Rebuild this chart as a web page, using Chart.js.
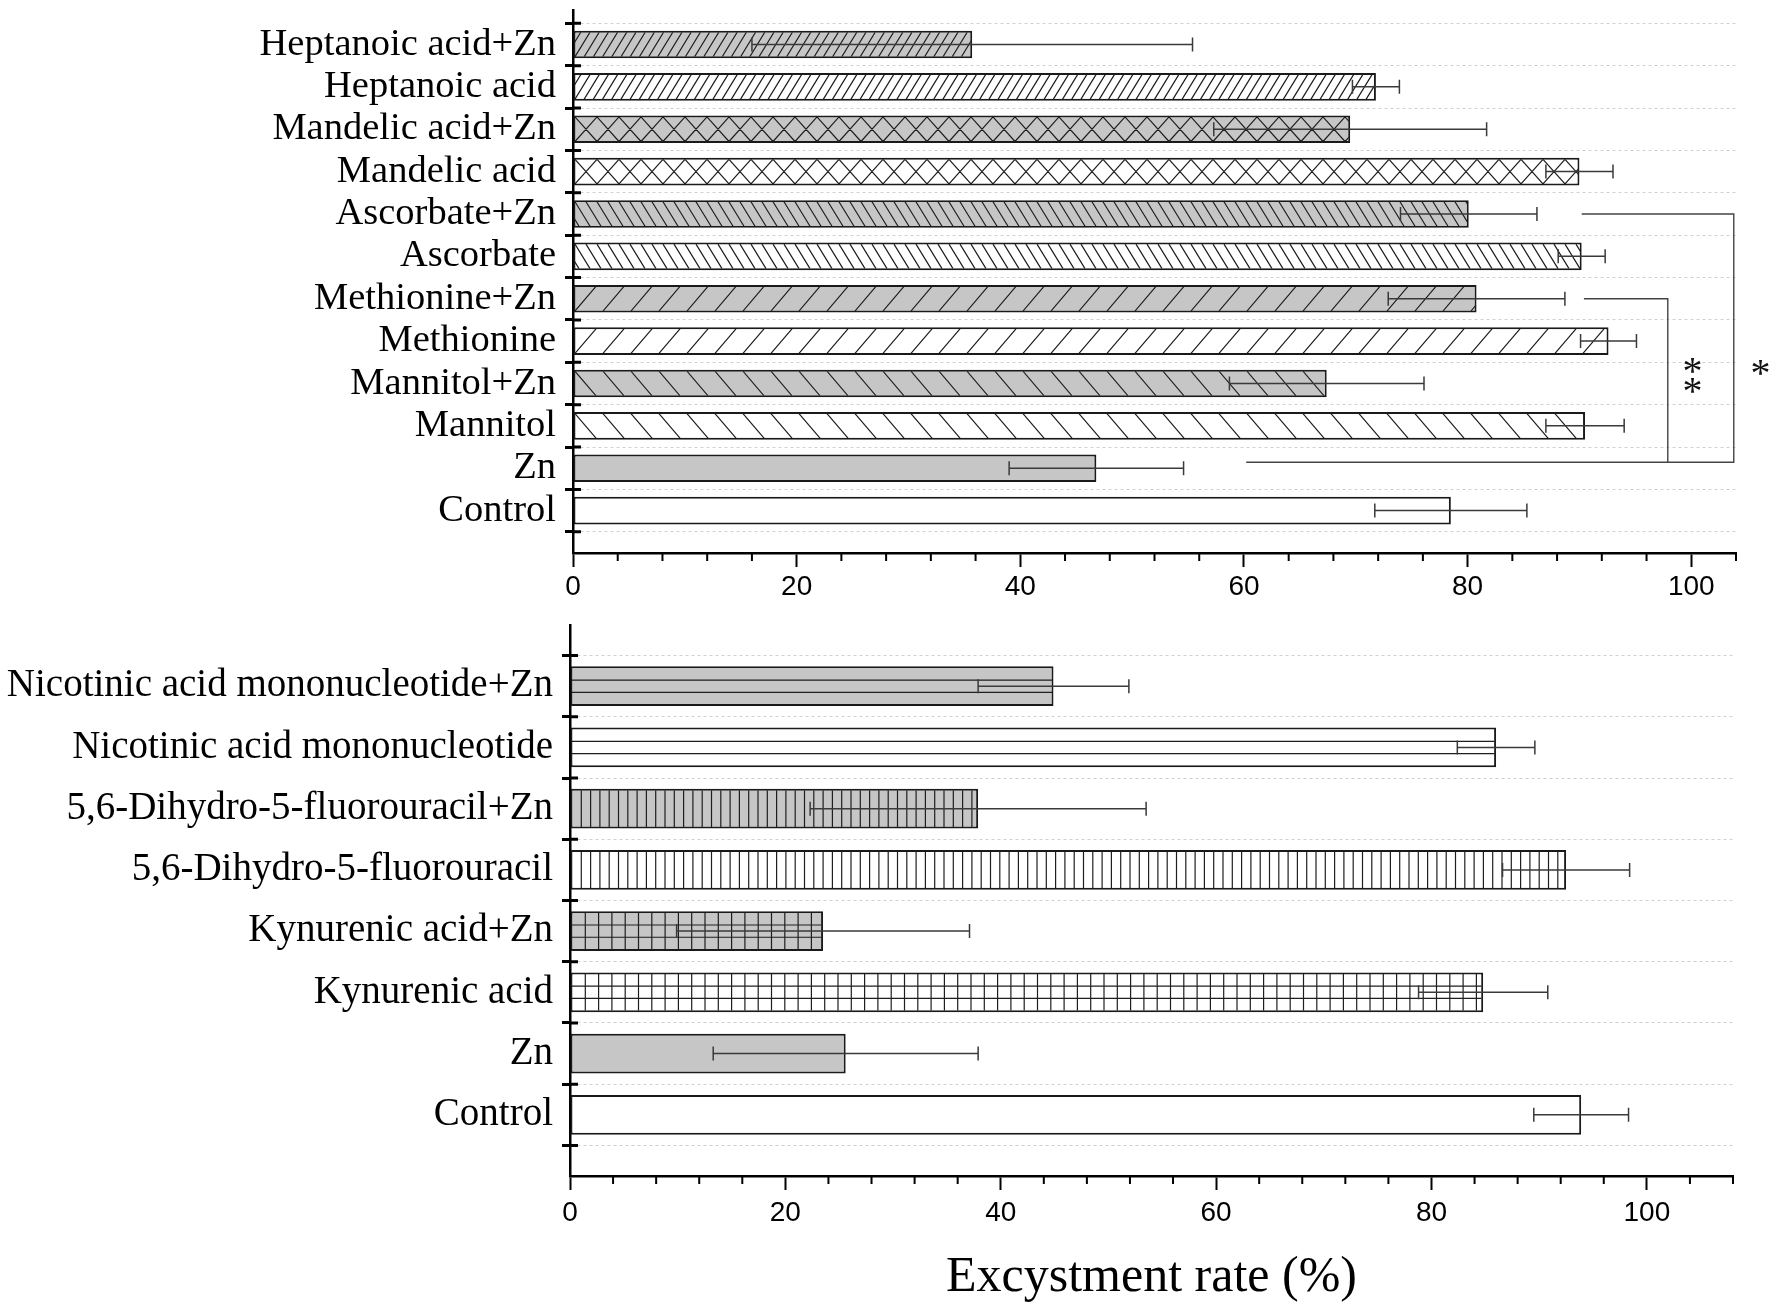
<!DOCTYPE html>
<html>
<head>
<meta charset="utf-8">
<script src="https://cdn.jsdelivr.net/npm/chart.js@4.4.1/dist/chart.umd.min.js"></script>
<style>
  html, body { margin: 0; padding: 0; background: #fff; }
  #wrap { position: relative; width: 1770px; height: 1308px; }
  .box { position: absolute; left: 0; width: 1770px; }
  #top { top: 0; height: 615px; }
  #bottom { top: 615px; height: 693px; }
</style>
</head>
<body>
<div id="wrap">
  <div class="box" id="top"><canvas id="chartTop"></canvas></div>
  <div class="box" id="bottom"><canvas id="chartBottom"></canvas></div>
</div>
<script>
(function () {
    "use strict";

    // Data
    const topLabels = ["Heptanoic acid+Zn", "Heptanoic acid", "Mandelic acid+Zn", "Mandelic acid",
        "Ascorbate+Zn", "Ascorbate", "Methionine+Zn", "Methionine", "Mannitol+Zn", "Mannitol", "Zn", "Control"];
    const topValues = [35.7, 71.8, 69.5, 90.0, 80.1, 90.2, 80.8, 92.6, 67.4, 90.5, 46.8, 78.5];
    const topErrors = [19.7, 2.1, 12.2, 3.0, 6.1, 2.1, 7.9, 2.5, 8.7, 3.5, 7.8, 6.8];

    const bottomLabels = ["Nicotinic acid mononucleotide+Zn", "Nicotinic acid mononucleotide",
        "5,6-Dihydro-5-fluorouracil+Zn", "5,6-Dihydro-5-fluorouracil",
        "Kynurenic acid+Zn", "Kynurenic acid", "Zn", "Control"];
    const bottomValues = [44.9, 86.0, 37.9, 92.5, 23.5, 84.8, 25.6, 93.9];
    const bottomErrors = [7.0, 3.6, 15.6, 5.9, 13.6, 6.0, 12.3, 4.4];

    const xMajorStep = 20;
    const xMinorStep = 4;
    const axisTitle = "Excystment rate (%)";

    // Styles
    const GRAY = "#c6c6c6";
    const WHITE = "#ffffff";
    const serif = '"Liberation Serif", "Times New Roman", serif';
    const sans = '"Liberation Sans", Arial, sans-serif';

    const topFill = [GRAY, WHITE, GRAY, WHITE, GRAY, WHITE, GRAY, WHITE, GRAY, WHITE, GRAY, WHITE];
    const topHatch = [
        { kind: "fwd", step: 9.2, run: 15 },
        { kind: "fwd", step: 9.2, run: 15 },
        { kind: "cross", step: 22, run: 22 },
        { kind: "cross", step: 22, run: 22 },
        { kind: "back", step: 11, run: 15 },
        { kind: "back", step: 11, run: 15 },
        { kind: "fwd", step: 28, run: 21 },
        { kind: "fwd", step: 28, run: 21 },
        { kind: "back", step: 28, run: 21 },
        { kind: "back", step: 28, run: 21 },
        null,
        null,
    ];
    const bottomFill = [GRAY, WHITE, GRAY, WHITE, GRAY, WHITE, GRAY, WHITE];
    const bottomHatch = [
        { kind: "horiz" },
        { kind: "horiz" },
        { kind: "vert", step: 9.3 },
        { kind: "vert", step: 9.3 },
        { kind: "grid", step: 13.3 },
        { kind: "grid", step: 13.3 },
        null,
        null,
    ];

    // significance brackets (value units)
    const topBrackets = [
        { yTop: 4, yBottom: 9.86, xStart: 90.2, xVert: 103.8, xTail: 60.2, marks: [[106.2, 7.6]] },
        { yTop: 6, yBottom: 9.86, xStart: 90.4, xVert: 97.9, xTail: null, marks: [[100.1, 7.56], [100.1, 8.03]] },
    ];

    function drawHatch(ctx, h, l, t, r, b) {
        ctx.save();
        ctx.beginPath();
        ctx.rect(l, t, r - l, b - t);
        ctx.clip();
        ctx.strokeStyle = "#1e1e1e";
        ctx.lineWidth = 1.2;
        ctx.beginPath();
        const ht = b - t;
        if (h.kind === "fwd" || h.kind === "cross" || h.kind === "back") {
            const start = l - Math.ceil(h.run / h.step + 1) * h.step;
            for (let x = start; x < r + h.step; x += h.step) {
                if (h.kind !== "back") { ctx.moveTo(x, b); ctx.lineTo(x + h.run, t); }
                if (h.kind !== "fwd") { ctx.moveTo(x, t); ctx.lineTo(x + h.run, b); }
            }
        }
        if (h.kind === "vert" || h.kind === "grid") {
            for (let x = l + h.step; x < r - 1; x += h.step) { ctx.moveTo(x, t); ctx.lineTo(x, b); }
        }
        if (h.kind === "horiz" || h.kind === "grid") {
            for (let k = 1; k < 3; k++) { const y = t + ht * k / 3; ctx.moveTo(l, y); ctx.lineTo(r, y); }
        }
        ctx.stroke();
        ctx.restore();
    }

    function makeDecor(hatch, brackets, xMax) {
        return {
            id: "decor",
            afterDatasetsDraw(chart) {
                const { ctx, chartArea } = chart;
                const xs = chart.scales.x;
                const ys = chart.scales.y;
                const ds = chart.data.datasets[0];
                const meta = chart.getDatasetMeta(0);

                // hatching
                meta.data.forEach((bar, i) => {
                    const p = bar.getProps(["x", "y", "base", "height"], true);
                    const l = Math.min(p.base, p.x) + 1.5, r = Math.max(p.base, p.x) - 1.5;
                    const t = p.y - p.height / 2 + 1.5, b = p.y + p.height / 2 - 1.5;
                    if (hatch[i]) drawHatch(ctx, hatch[i], l, t, r, b);
                });

                // error bars
                ctx.save();
                ctx.strokeStyle = "#3a3a3a";
                ctx.lineWidth = 1.5;
                meta.data.forEach((bar, i) => {
                    const v = ds.data[i].x, e = ds.errors[i];
                    const lo = xs.getPixelForValue(v - e), hi = xs.getPixelForValue(v + e), y = bar.y;
                    ctx.beginPath();
                    ctx.moveTo(lo, y); ctx.lineTo(hi, y);
                    ctx.moveTo(lo, y - 7); ctx.lineTo(lo, y + 7);
                    ctx.moveTo(hi, y - 7); ctx.lineTo(hi, y + 7);
                    ctx.stroke();
                });
                ctx.restore();

                // y-axis ticks, inner half
                ctx.save();
                ctx.strokeStyle = "#000";
                ctx.lineWidth = 3;
                ctx.beginPath();
                for (let i = 0; i <= ds.data.length; i++) {
                    const y = ys.getPixelForValue(i - 0.5);
                    ctx.moveTo(chartArea.left, y); ctx.lineTo(chartArea.left + 8, y);
                }
                ctx.stroke();

                // x-axis minor ticks
                ctx.lineWidth = 2;
                ctx.beginPath();
                for (let v = 0; v <= xMax; v += xMinorStep) {
                    if (v % xMajorStep === 0) continue;
                    const x = xs.getPixelForValue(v);
                    ctx.moveTo(x, chartArea.bottom); ctx.lineTo(x, chartArea.bottom + 8);
                }
                ctx.stroke();
                ctx.restore();

                // brackets
                ctx.save();
                ctx.strokeStyle = "#444";
                ctx.lineWidth = 1.4;
                ctx.fillStyle = "#111";
                ctx.font = "40px " + serif;
                ctx.textAlign = "center";
                ctx.textBaseline = "alphabetic";
                brackets.forEach((br) => {
                    const yT = ys.getPixelForValue(br.yTop), yB = ys.getPixelForValue(br.yBottom);
                    const xS = xs.getPixelForValue(br.xStart), xV = xs.getPixelForValue(br.xVert);
                    ctx.beginPath();
                    ctx.moveTo(xS, yT); ctx.lineTo(xV, yT); ctx.lineTo(xV, yB);
                    if (br.xTail !== null) ctx.lineTo(xs.getPixelForValue(br.xTail), yB);
                    ctx.stroke();
                    br.marks.forEach((m) => {
                        ctx.fillText("*", xs.getPixelForValue(m[0]), ys.getPixelForValue(m[1]) + 19);
                    });
                });
                ctx.restore();
            },
        };
    }

    function buildChart(el, cfg) {
        return new Chart(el.getContext("2d"), {
            type: "bar",
            data: {
                datasets: [
                    {
                        data: cfg.values.map((v, i) => ({ x: v, y: i })),
                        errors: cfg.errors,
                        backgroundColor: cfg.fill,
                        borderColor: "#1a1a1a",
                        borderWidth: 2,
                        borderSkipped: false,
                        categoryPercentage: 0.65,
                        barPercentage: 1,
                    },
                ],
            },
            options: {
                indexAxis: "y",
                responsive: true,
                maintainAspectRatio: false,
                animation: false,
                layout: { padding: { top: 10, right: cfg.padRight, left: 0, bottom: 0 } },
                plugins: {
                    legend: { display: false },
                    tooltip: { enabled: false },
                },
                scales: {
                    x: {
                        type: "linear",
                        min: 0,
                        max: cfg.xMax,
                        afterFit: (s) => {
                            s.height = cfg.xHeight;
                            s.paddingLeft = 0;
                            s.paddingRight = 0;
                        },
                        ticks: {
                            stepSize: xMinorStep,
                            autoSkip: false,
                            maxRotation: 0,
                            padding: cfg.xPad,
                            color: "#000",
                            font: { family: sans, size: 28 },
                            callback: (v) => (v % xMajorStep === 0 ? String(v) : ""),
                        },
                        grid: {
                            drawOnChartArea: false,
                            tickLength: 14,
                            tickWidth: 2,
                            tickColor: (c) => (c.tick && c.tick.value % xMajorStep === 0 ? "#000" : "rgba(0,0,0,0)"),
                        },
                        border: { display: true, color: "#000", width: 2.5 },
                        title: {
                            display: !!cfg.title,
                            text: cfg.title || "",
                            color: "#000",
                            font: { family: serif, size: 50 },
                            padding: { top: 0, bottom: 0 },
                        },
                    },
                    y: {
                        type: "linear",
                        reverse: true,
                        offset: false,
                        min: cfg.yMin,
                        max: cfg.yMax,
                        afterBuildTicks: (s) => {
                            s.ticks = cfg.labels.map((_, i) => ({ value: i }));
                        },
                        afterFit: (s) => {
                            s.width = cfg.yWidth;
                            s.paddingTop = 0;
                            s.paddingBottom = 0;
                        },
                        ticks: {
                            autoSkip: false,
                            padding: 9,
                            color: "#000",
                            font: { family: serif, size: cfg.labelSize },
                            callback: (v) => cfg.labels[v],
                        },
                        grid: {
                            offset: true,
                            color: "#d0d0d0",
                            lineWidth: 1,
                            tickLength: 8,
                            tickWidth: 3,
                            tickColor: "#000",
                        },
                        border: { display: true, color: "#000", width: 2.5, dash: [3, 3] },
                    },
                },
            },
            plugins: [makeDecor(cfg.hatch, cfg.brackets, cfg.xMax)],
        });
    }

    buildChart(document.getElementById("chartTop"), {
        labels: topLabels, values: topValues, errors: topErrors,
        fill: topFill, hatch: topHatch, brackets: topBrackets,
        xMax: 104, yMin: -0.814, yMax: 12.0,
        yWidth: 573, xHeight: 62, padRight: 34, xPad: 3, labelSize: 38.5, title: null,
    });

    buildChart(document.getElementById("chartBottom"), {
        labels: bottomLabels, values: bottomValues, errors: bottomErrors,
        fill: bottomFill, hatch: bottomHatch, brackets: [],
        xMax: 108, yMin: -1.0, yMax: 8.0,
        yWidth: 570, xHeight: 132, padRight: 37, xPad: 6, labelSize: 39, title: axisTitle,
    });
})();
</script>
</body>
</html>
